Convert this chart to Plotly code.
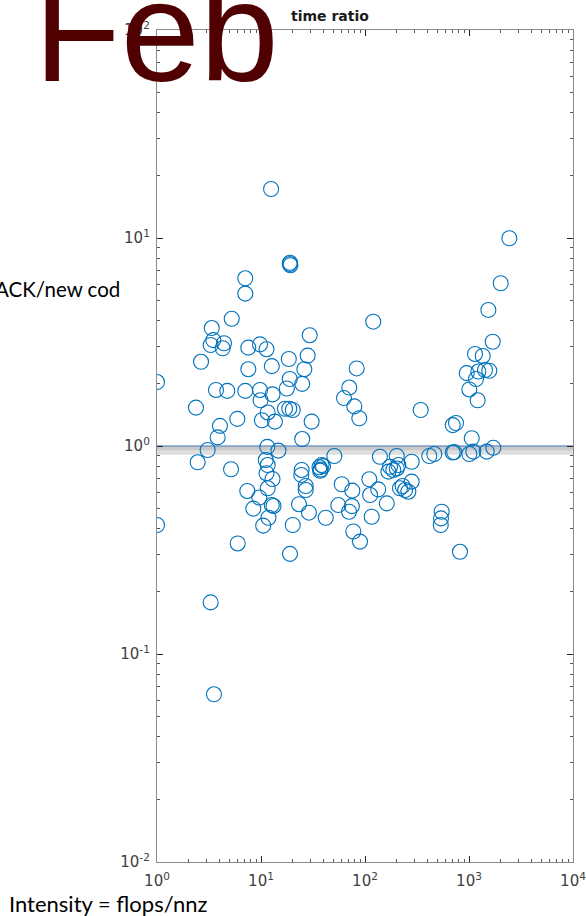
import plotly.graph_objects as go

# ---- data ----
intensity = [1.0, 1.0, 12.5, 19.0, 19.2, 18.9, 7.06, 7.06, 5.23, 29.4,
             3.36, 3.48, 3.28, 4.41, 4.28, 7.55, 9.78, 11.3, 2.65, 7.55,
             12.7, 18.5, 28.1, 26.1, 18.9, 17.7, 24.9, 70.6, 83.2, 62.8,
             3.69, 4.74, 7.06, 9.78, 12.9, 9.9, 78.9, 88.1, 2.37, 11.6,
             17.0, 18.7, 20.2, 5.92, 10.2, 13.6, 30.7, 4.03, 3.83, 24.9,
             11.5, 14.7, 3.07, 2.46, 5.15, 11.1, 11.6, 11.3, 12.9, 24.6,
             24.4, 36.5, 38.3, 37.5, 39.5, 37.0, 50.7, 7.38, 11.6, 26.9,
             26.9, 9.63, 59.7, 75.5, 8.44, 12.7, 13.2, 23.2, 28.9, 41.9,
             55.4, 70.2, 74.8, 11.8, 10.5, 20.2, 77.2, 5.97, 19.0, 89.5,
             3.28, 3.53, 2443, 2018, 1535, 1690, 120, 1142, 1355, 951,
             1230, 1425, 1567, 1167, 1007, 1211, 343, 697, 750, 1062,
             1713, 1480, 1100, 1007, 697, 720, 415, 464, 139, 202,
             281, 174, 187, 202, 168, 209, 110, 134, 112, 217,
             243, 261, 281, 230, 162, 116, 546, 538, 535, 819]
time_ratio = [2.03, 0.417, 17.2, 7.6, 7.4, 7.5, 6.4, 5.4, 4.09, 3.41,
              3.69, 3.23, 3.06, 3.12, 2.95, 2.97, 3.08, 2.92, 2.54, 2.34,
              2.42, 2.62, 2.72, 2.34, 2.10, 1.89, 1.99, 1.91, 2.36, 1.70,
              1.86, 1.84, 1.84, 1.86, 1.77, 1.66, 1.55, 1.36, 1.53, 1.45,
              1.51, 1.51, 1.49, 1.35, 1.33, 1.31, 1.31, 1.25, 1.10, 1.08,
              0.99, 0.95, 0.957, 0.835, 0.773, 0.856, 0.81, 0.74, 0.694, 0.767,
              0.726, 0.79, 0.81, 0.77, 0.80, 0.76, 0.895, 0.608, 0.626, 0.642,
              0.614, 0.565, 0.655, 0.61, 0.50, 0.52, 0.515, 0.525, 0.478, 0.452,
              0.52, 0.483, 0.514, 0.452, 0.414, 0.417, 0.388, 0.34, 0.303, 0.347,
              0.177, 0.064, 9.97, 6.06, 4.51, 3.17, 3.96, 2.77, 2.71, 2.24,
              2.28, 2.32, 2.30, 2.10, 1.87, 1.66, 1.49, 1.26, 1.29, 1.09,
              0.98, 0.94, 0.94, 0.915, 0.93, 0.935, 0.895, 0.915, 0.888, 0.895,
              0.84, 0.795, 0.767, 0.78, 0.753, 0.81, 0.692, 0.619, 0.581, 0.626,
              0.614, 0.603, 0.674, 0.642, 0.53, 0.457, 0.483, 0.449, 0.417, 0.31]

ref_level = 1.0
x_limits = [1, 10000]

x_tickvals = [1, 10, 100, 1000, 10000]
x_ticktext = ["10<sup>0</sup>", "10<sup>1</sup>", "10<sup>2</sup>", "10<sup>3</sup>", "10<sup>4</sup>"]
y_tickvals = [0.01, 0.1, 1, 10, 100]
y_ticktext = ["10<sup>-2</sup>", "10<sup>-1</sup>", "10<sup>0</sup>", "10<sup>1</sup>", "10<sup>2</sup>"]

title_text = "time ratio"
big_label = "Feb"
side_label = "ACK/new cod"
bottom_label = "Intensity = flops/nnz"

minor_x = [m * 10 ** k for k in range(0, 4) for m in range(2, 10)]
minor_y = [m * 10 ** k for k in range(-2, 2) for m in range(2, 10)]

# plot-area geometry (pixels) used to place free text
L, R, T, B = 157, 573, 30, 862
def px(x):
    return (x - L) / (R - L)
def py(y):
    return (B - y) / (B - T)

fig = go.Figure()

# shadow of the reference line
fig.add_trace(go.Scatter(x=x_limits, y=[ref_level * 0.953, ref_level * 0.953], mode="lines",
                         line=dict(color="rgba(205,205,205,0.65)", width=9),
                         hoverinfo="skip", showlegend=False))
fig.add_trace(go.Scatter(x=x_limits, y=[ref_level * 0.975, ref_level * 0.975], mode="lines",
                         line=dict(color="rgba(180,180,180,0.5)", width=4),
                         hoverinfo="skip", showlegend=False))
fig.add_trace(go.Scatter(x=x_limits, y=[ref_level, ref_level], mode="lines",
                         line=dict(color="#4477bb", width=1),
                         hoverinfo="skip", showlegend=False))

fig.add_trace(go.Scatter(x=intensity, y=time_ratio, mode="markers",
                         marker=dict(symbol="circle-open", size=15, color="#0072BD",
                                     line=dict(width=1.1, color="#0072BD")),
                         showlegend=False))

axis_common = dict(
    type="log", showgrid=False, zeroline=False, automargin=False,
    showline=True, linecolor="#8a8a8a", linewidth=1.3, mirror="allticks",
    ticks="inside", ticklen=6, tickwidth=1, tickcolor="#262626",
    tickmode="array", ticklabeloverflow="allow",
    tickfont=dict(family="DejaVu Sans", size=15, color="#404040"),
)

fig.update_xaxes(range=[0, 4], tickvals=x_tickvals, ticktext=x_ticktext,
                 ticklabelstandoff=5,
                 minor=dict(tickmode="array", tickvals=minor_x, ticks="inside",
                            ticklen=3, tickcolor="#555555", tickwidth=1),
                 **axis_common)
fig.update_yaxes(range=[-2, 2], tickvals=y_tickvals, ticktext=y_ticktext,
                 ticklabelstandoff=3,
                 minor=dict(tickmode="array", tickvals=minor_y, ticks="inside",
                            ticklen=3, tickcolor="#555555", tickwidth=1),
                 **axis_common)

fig.add_annotation(text="<b>" + title_text + "</b>", xref="paper", yref="paper",
                   x=px(330), y=py(16), xanchor="center", yanchor="middle",
                   showarrow=False, font=dict(family="DejaVu Sans", size=14, color="#1a1a1a"))

fig.add_annotation(text=side_label, xref="paper", yref="paper",
                   x=px(-7), y=py(289), xanchor="left", yanchor="middle",
                   showarrow=False, font=dict(family="Lato", size=20.5, color="#000000"))

fig.add_annotation(text=bottom_label, xref="paper", yref="paper",
                   x=px(7), y=py(903), xanchor="left", yanchor="middle",
                   showarrow=False, font=dict(family="Lato", size=22, color="#000000"))

fig.add_annotation(text=big_label, xref="paper", yref="paper",
                   x=px(32), y=py(31), xanchor="left", yanchor="middle",
                   showarrow=False, font=dict(family="Liberation Sans", size=142, color="#500000"))

fig.update_layout(
    width=586, height=916,
    margin=dict(l=L, r=586 - R, t=T, b=916 - B),
    paper_bgcolor="white", plot_bgcolor="white",
    showlegend=False,
)

fig.write_html("out.html")
